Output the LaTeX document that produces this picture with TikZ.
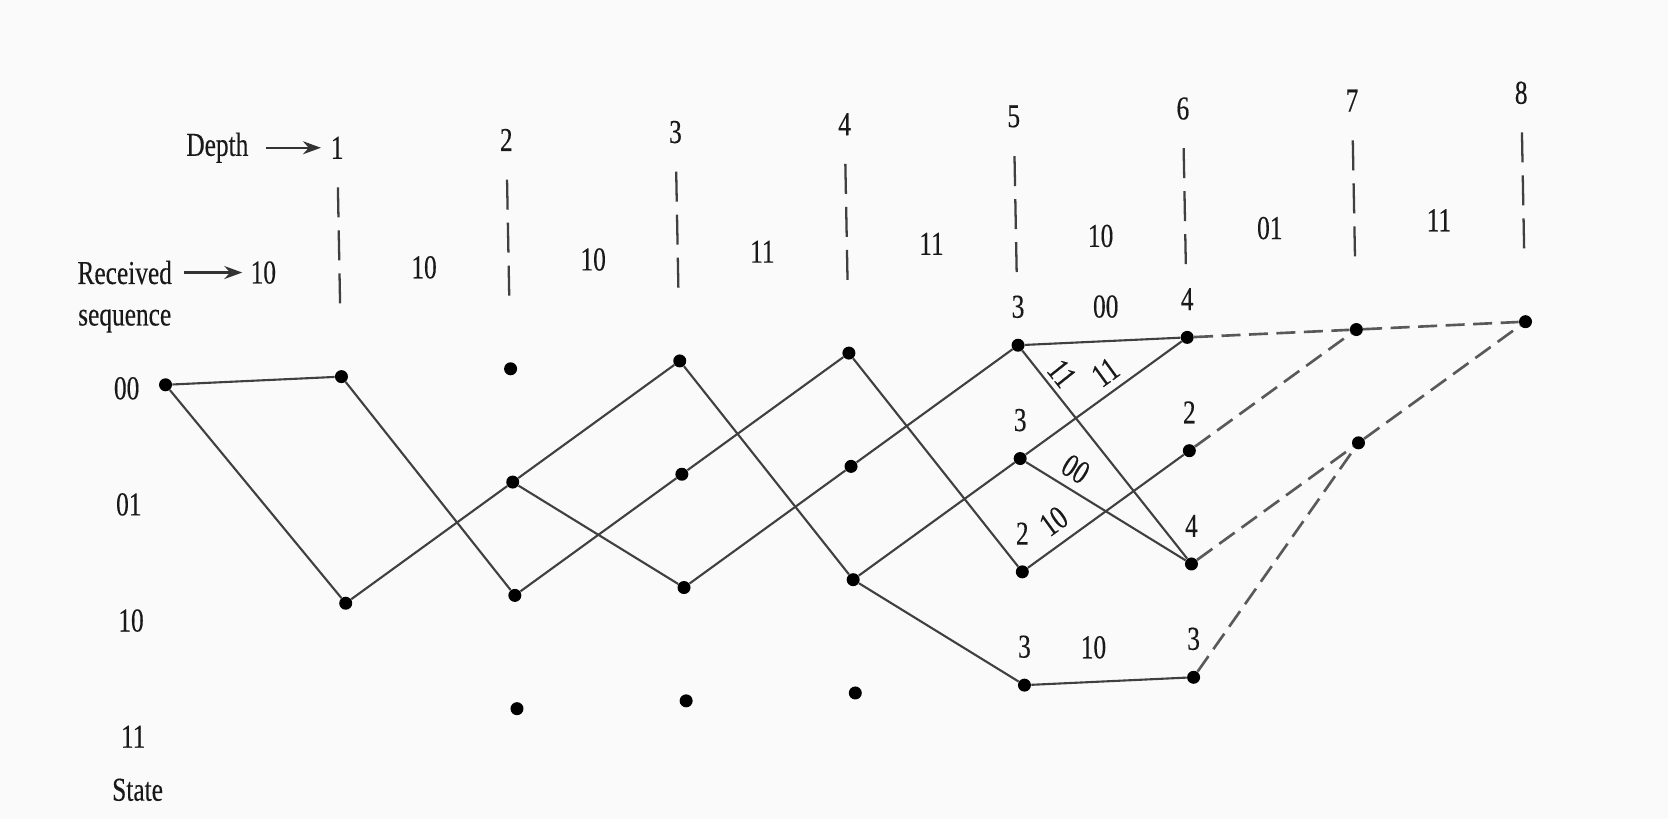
\documentclass[tikz,border=0pt]{standalone}
\usepackage{fontspec}
\setmainfont{Liberation Serif}[FakeStretch=0.76, FakeBold=0.3]
\usepackage{tikz}
\usetikzlibrary{arrows.meta, positioning}

\definecolor{paper}{HTML}{FAFAFA}

\begin{document}
\begin{tikzpicture}[>={Stealth[length=0.36cm, width=0.26cm]},
  font=\fontsize{19}{22}\selectfont,
  dot/.style={circle, fill=black, inner sep=0pt, minimum size=0.26cm},
  txt/.style={text=black!90, inner sep=0.1cm},
  metric/.style={text=black!90, inner sep=0pt},
  brlab/.style={text=black!90, inner sep=0pt, sloped, above=0.17cm},
  branch/.style={black!75, line width=1.2pt},
  tail/.style={black!65, line width=1.5pt, dash pattern=on 0.38cm off 0.17cm},
  divider/.style={black!75, line width=1.3pt, dash pattern=on 0.6cm off 0.26cm},
  pointer/.style={->, black!80, line width=1.2pt}]

  \fill[paper] (0,0) rectangle (33.36,16.38);
  \useasboundingbox (0,0) rectangle (33.36,16.38);

  \begin{scope}[shift={(3.446cm,8.69cm)}, x={(3.383cm,0.157cm)}, y={(-0.0426cm,2.266cm)}]
  % Depth axis and dividers
  \foreach \d in {1,...,8} {
    \node[txt] (d\d) at (\d,2.02) {\d};
    \draw[divider] (\d,1.67) -- (\d,0.64);
  }
  \node[txt, left=1.435cm of d1] (dep) {Depth};
  \draw[pointer, shorten <=0.24cm, shorten >=0.09cm] (dep) -- (d1);

  % Received sequence
  \node[txt] (r0) at (0.55,0.95) {10};
  \foreach \k/\bits in {1/10,2/10,3/11,4/11,5/10,6/01,7/11}
    \node[txt] (r\k) at (\k+0.5,0.93) {\bits};
  \node[txt, left=1.36cm of r0] (recv) {Received};
  \node[txt, anchor=base] (seq) at ([yshift=-0.83cm]recv.base) {sequence};
  \draw[pointer, shorten <=0.13cm, shorten >=0.06cm] (recv) -- (r0);

  % States
  \foreach \s/\bits in {0/00,1/01,2/10,3/11}
    \node[txt] (s\s) at (-0.27,{-1.025*\s-0.015}) {\bits};
  \node[txt] (state) at (-0.25,-3.56) {State};

  % Trellis nodes
  \node[dot] (n00) at (-0.04,0) {};
  \foreach \s in {0,2} \node[dot] (n1\s) at (1,-\s) {};
  \foreach \d in {2,...,6}
    \foreach \s in {0,...,3} \node[dot] (n\d\s) at (\d,-\s) {};
  \foreach \s in {0,1} \node[dot] (n7\s) at (7,-\s) {};
  \node[dot] (n80) at (8,0) {};

  % Branches explored so far
  \foreach \a/\b in {n00/n10, n00/n12, n10/n22, n12/n21, n21/n30, n21/n32,
      n22/n31, n30/n42, n31/n40, n32/n41, n40/n52, n41/n50, n42/n51, n42/n53,
      n50/n60, n50/n62, n51/n60, n51/n62, n52/n61, n53/n63}
    \draw[branch] (\a) -- (\b);
  % Remaining depths
  \foreach \a/\b in {n60/n70, n61/n70, n62/n71, n63/n71, n70/n80, n71/n80}
    \draw[tail] (\a) -- (\b);

  % Path metrics
  \foreach \n/\m in {n50/3, n51/3, n52/2, n53/3, n60/4, n61/2, n62/4, n63/3}
    \node[metric, above=0.4cm of \n] (m\n) {\m};

  % Branch words
  \path (n50) -- (n60) node[metric, pos=0.52, above=0.46cm] (w1) {00};
  \path (n53) -- (n63) node[metric, pos=0.4, above=0.46cm] (w2) {10};
  \path (n50) -- (n62) node[brlab, pos=0.16, above=0.11cm] (w3) {11};
  \path (n51) -- (n60) node[brlab, pos=0.585] (w4) {11};
  \path (n51) -- (n62) node[brlab, pos=0.245] (w5) {00};
  \path (n52) -- (n61) node[brlab, pos=0.25, above=0.22cm] (w6) {10};
  \end{scope}
\end{tikzpicture}
\end{document}
